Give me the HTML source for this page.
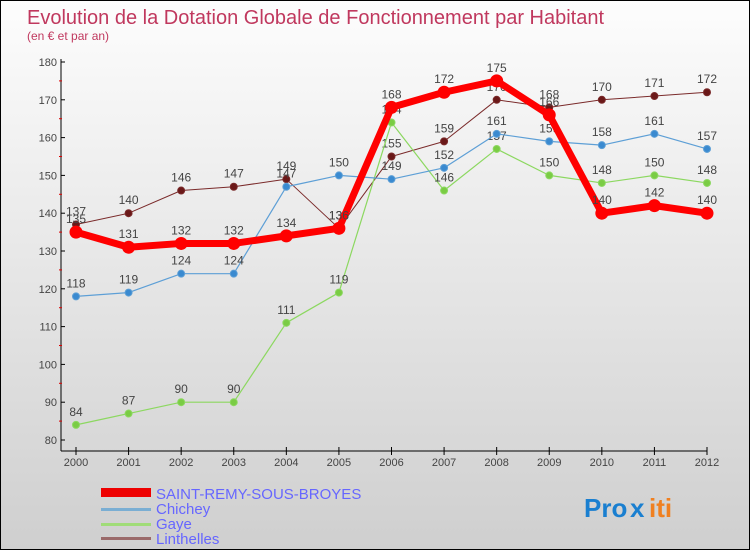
<!DOCTYPE html>
<html><head><meta charset="utf-8"><style>
body{margin:0}
#c{width:748px;height:548px;border:1px solid #000;background:linear-gradient(#fdfdfd,#cfcfcf);position:relative;font-family:"Liberation Sans",sans-serif;overflow:hidden}
</style></head><body>
<div id="c">
<svg id="s" width="748" height="548" xmlns="http://www.w3.org/2000/svg" style="position:absolute;left:0;top:0">
<text x="26" y="23" font-size="20" fill="#c0385e">Evolution de la Dotation Globale de Fonctionnement par Habitant</text>
<text x="26" y="39" font-size="12" fill="#c0385e">(en € et par an)</text>
<g id="axes"></g><g id="series"></g>
<g>
<rect x="100" y="487" width="50" height="9" fill="#e00"/>
<text x="155" y="498" font-size="15" fill="#6666ff">SAINT-REMY-SOUS-BROYES</text>
<rect x="100" y="507" width="50" height="3" fill="#7aaed3"/>
<text x="155" y="513" font-size="15" fill="#6666ff">Chichey</text>
<rect x="100" y="522" width="50" height="3" fill="#a0dc78"/>
<text x="155" y="528" font-size="15" fill="#6666ff">Gaye</text>
<rect x="100" y="536" width="50" height="3" fill="#9a6a6a"/>
<text x="155" y="543" font-size="15" fill="#6666ff">Linthelles</text>
</g>
<g font-size="26" font-weight="bold">
<text x="583" y="516" fill="#1a7fd0">Pro</text><text x="629" y="516" fill="#1a7fd0">x</text><text x="648" y="516" fill="#f08020">iti</text>
</g>
</svg></div>
<script>
const years=[2000,2001,2002,2003,2004,2005,2006,2007,2008,2009,2010,2011,2012];
const yTicks=[80,90,100,110,120,130,140,150,160,170,180];
const saintRemy=[135,131,132,132,134,136,168,172,175,166,140,142,140];
const chichey=[118,119,124,124,147,150,149,152,161,159,158,161,157];
const gaye=[84,87,90,90,111,119,164,146,157,150,148,150,148];
const linthelles=[137,140,146,147,149,136,155,159,170,168,170,171,172];
const NS="http://www.w3.org/2000/svg";
const xs=i=>75+i*(631/12);
const ys=v=>439-(v-80)*3.78;
function mk(t,a,p){const e=document.createElementNS(NS,t);for(const k in a)e.setAttribute(k,a[k]);p.appendChild(e);return e;}
const ax=document.getElementById('axes');
mk('line',{x1:60,y1:58,x2:60,y2:450,stroke:'#000'},ax);
mk('line',{x1:60,y1:450,x2:706,y2:450,stroke:'#000'},ax);
yTicks.forEach(v=>{
 mk('line',{x1:60,y1:ys(v),x2:64,y2:ys(v),stroke:'#000'},ax);
 if(v<180)mk('line',{x1:58,y1:ys(v+5),x2:61,y2:ys(v+5),stroke:'#d00'},ax);
 const t=mk('text',{x:56,y:ys(v)+4,'font-size':11,fill:'#444','text-anchor':'end'},ax);
 
 
 t.textContent=v;
});
years.forEach((y,i)=>{
 mk('line',{x1:xs(i),y1:446,x2:xs(i),y2:454,stroke:'#000'},ax);
 const t=mk('text',{x:xs(i),y:465,'font-size':11,fill:'#444','text-anchor':'middle'},ax);
 
 
 t.textContent=y;
});
const sg=document.getElementById('series');
function draw(vals,name,color,w,r,dot){
 const g=mk('g',{},sg);
 
 
 mk('polyline',{points:vals.map((v,i)=>xs(i)+','+ys(v)).join(' '),fill:'none',stroke:color,'stroke-width':w,'stroke-linejoin':'round'},g);
 vals.forEach((v,i)=>{
  const c=mk('circle',{cx:xs(i),cy:ys(v),r:r,fill:dot,stroke:color,'stroke-width':1},g);
  
  
  const t=mk('text',{x:xs(i),y:ys(v)-9,'font-size':12,fill:'#444','text-anchor':'middle'},g);
  
  
  t.textContent=v;
 });
}
draw(linthelles,'linthelles','#7a2a2a',1,3.5,'#6a1818');
draw(gaye,'gaye','#8cd860',1.2,3.5,'#7acc44');
draw(chichey,'chichey','#5d9fd6',1.2,3.5,'#3a8ad0');
draw(saintRemy,'saint-remy','#ff0000',7,6,'#ff0000');
</script>
</body></html>
